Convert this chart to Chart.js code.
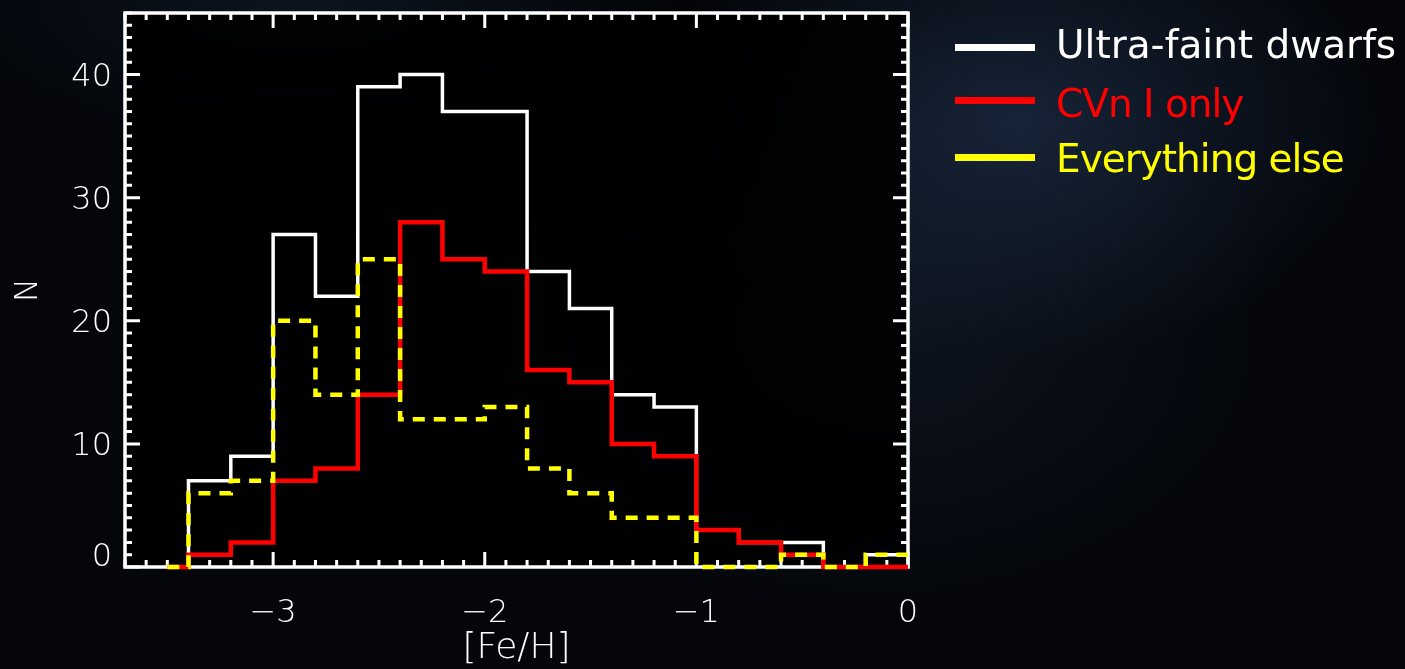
<!DOCTYPE html>
<html>
<head>
<meta charset="utf-8">
<title>[Fe/H] distribution</title>
<script src="https://cdn.jsdelivr.net/npm/chart.js@4"></script>
<style>
  html, body { margin: 0; padding: 0; }
  body {
    width: 1405px; height: 669px; overflow: hidden; position: relative;
    background:
      radial-gradient(ellipse 260px 200px at 650px 110px, rgba(0,0,0,0.55), transparent 75%),
      radial-gradient(ellipse 520px 330px at 1020px 120px, rgba(32,50,78,0.65), transparent 72%),
      radial-gradient(ellipse 600px 420px at 880px 330px, rgba(20,30,46,0.6), transparent 70%),
      radial-gradient(ellipse 500px 200px at 300px 0px, rgba(18,30,46,0.6), transparent 75%),
      #04060a;
  }
  #grafico { position: absolute; left: 0; top: 0; }
  .legenda { position: absolute; left: 0; top: 0; font-family: 'DejaVu Sans', sans-serif; font-size: 39px; line-height: 1; }
  .legenda .traco { position: absolute; left: 955px; width: 80px; height: 7px; }
  .legenda .texto { position: absolute; left: 1056px; white-space: nowrap; }
</style>
</head>
<body>
<canvas id="grafico" width="1405" height="669"></canvas>
<div class="legenda">
  <div class="traco" style="top:44px; background:#ffffff"></div>
  <div class="texto" style="top:25px; color:#ffffff">Ultra-faint dwarfs</div>
  <div class="traco" style="top:97px; background:#ff0000"></div>
  <div class="texto" style="top:84px; color:#ff0000; letter-spacing:-1px">CVn I only</div>
  <div class="traco" style="top:154px; background:#ffff00"></div>
  <div class="texto" style="top:139px; color:#ffff00; letter-spacing:-1px">Everything else</div>
</div>
<script>
// left edge of each 0.2 dex bin (first one is the empty half bin)
var binEdges = [-3.5, -3.4, -3.2, -3.0, -2.8, -2.6, -2.4, -2.2, -2.0, -1.8, -1.6, -1.4, -1.2, -1.0, -0.8, -0.6, -0.4, -0.2];
var binEnd = 0;

var ultraFaint     = [0, 7, 9, 27, 22, 39, 40, 37, 37, 24, 21, 14, 13, 3, 2, 2, 0, 1];
var cvnOnly        = [0, 1, 2,  7,  8, 14, 28, 25, 24, 16, 15, 10,  9, 3, 2, 1, 0, 0];
var everythingElse = [0, 6, 7, 20, 14, 25, 12, 12, 13,  8,  6,  4,  4, 0, 0, 1, 0, 1];

var xTicks = [-3, -2, -1, 0];
var yTicks = [0, 10, 20, 30, 40];

var fonte = "'DejaVu Sans', sans-serif";

// histogram outline: value holds from its left edge to the next edge
function degraus(valores) {
    var pts = binEdges.map(function (x, i) { return {x: x, y: valores[i]}; });
    pts.push({x: binEnd, y: valores[valores.length - 1]});
    return pts;
}

// white box with inward major/minor ticks on all four sides
var moldura = {
    id: 'moldura',
    beforeDatasetsDraw: function (chart) {
        var ctx = chart.ctx, a = chart.chartArea;
        var sx = chart.scales.x, sy = chart.scales.y;
        ctx.save();
        ctx.fillStyle = 'rgba(0,0,0,0.88)';
        ctx.fillRect(a.left, a.top, a.right - a.left, a.bottom - a.top);
        ctx.strokeStyle = '#ffffff';
        ctx.lineWidth = 3;
        ctx.beginPath();
        for (var i = -37; i <= 0; i++) {
            var px = sx.getPixelForValue(i / 10);
            var len = (i % 10 === 0) ? 15 : 7;
            ctx.moveTo(px, a.bottom); ctx.lineTo(px, a.bottom - len);
            ctx.moveTo(px, a.top); ctx.lineTo(px, a.top + len);
        }
        for (var j = 0; j <= 45; j++) {
            var py = sy.getPixelForValue(j);
            var l2 = (j % 10 === 0) ? 15 : 7;
            ctx.moveTo(a.left, py); ctx.lineTo(a.left + l2, py);
            ctx.moveTo(a.right, py); ctx.lineTo(a.right - l2, py);
        }
        ctx.stroke();
        ctx.lineWidth = 3.5;
        ctx.strokeRect(a.left, a.top, a.right - a.left, a.bottom - a.top);
        ctx.restore();
    }
};

function semMargem(s) {
    s.paddingTop = 0; s.paddingBottom = 0;
    s.paddingLeft = 0; s.paddingRight = 0;
}

var myChart = new Chart(document.getElementById('grafico'), {
    type: 'line',
    data: {
        datasets: [
            {label: 'Everything else', data: degraus(everythingElse), borderColor: '#ffff00', borderWidth: 4.5, borderDash: [12, 9]},
            {label: 'CVn I only', data: degraus(cvnOnly), borderColor: '#ff0000', borderWidth: 4.5},
            {label: 'Ultra-faint dwarfs', data: degraus(ultraFaint), borderColor: '#ffffff', borderWidth: 3.5}
        ]
    },
    options: {
        responsive: false,
        devicePixelRatio: 1,
        animation: false,
        datasets: {line: {stepped: true, pointRadius: 0, fill: false, tension: 0, clip: 4}},
        layout: {padding: {left: 0, right: 497, top: 13, bottom: 0}},
        plugins: {legend: {display: false}, tooltip: {enabled: false}},
        scales: {
            x: {
                type: 'linear', min: -3.7, max: 0,
                grid: {display: false, drawTicks: false},
                border: {display: false},
                afterBuildTicks: function (s) { s.ticks = xTicks.map(function (v) { return {value: v}; }); },
                afterFit: function (s) { s.height = 102; semMargem(s); },
                ticks: {
                    color: '#ffffff', padding: 27, maxRotation: 0,
                    font: {family: fonte, size: 32, weight: '200', lineHeight: 1.2},
                    callback: function (v) { return String(v).replace('-', '\u2212'); }
                },
                title: {display: true, text: '[Fe/H]', color: '#ffffff', font: {family: fonte, size: 36, weight: '200', lineHeight: 1}, padding: {top: 0, bottom: 2}}
            },
            y: {
                type: 'linear', min: 0, max: 45,
                grid: {display: false, drawTicks: false},
                border: {display: false},
                afterBuildTicks: function (s) { s.ticks = yTicks.map(function (v) { return {value: v}; }); },
                afterFit: function (s) { s.width = 125; semMargem(s); },
                ticks: {
                    color: '#ffffff', padding: 13, labelOffset: 3,
                    font: function (c) {
                        return {family: fonte, size: 32, weight: '200', lineHeight: (c.tick && c.tick.value === 0) ? 0.75 : 1.2};
                    },
                    callback: function (v) { return v === 0 ? ['0', ''] : String(v); }
                },
                title: {display: true, text: 'N', color: '#ffffff', font: {family: fonte, size: 32, weight: '200', lineHeight: 1}, padding: {top: 13, bottom: 0}}
            }
        }
    },
    plugins: [moldura]
});
</script>
</body>
</html>
